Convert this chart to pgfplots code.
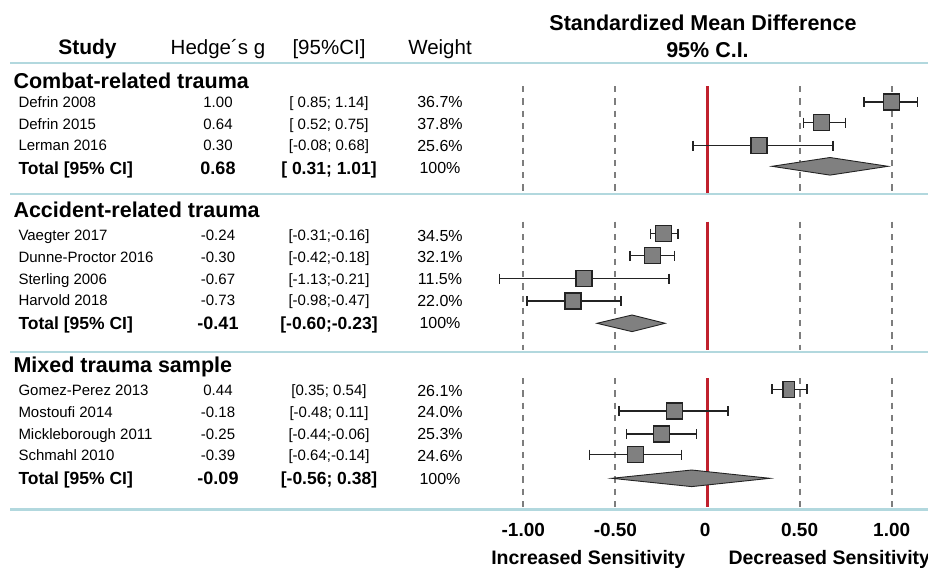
\documentclass[border=0pt]{standalone}
\usepackage{fontspec}
\setmainfont{Liberation Sans}
\usepackage{pgfplots}
\pgfplotsset{compat=1.18}

\definecolor{sepblue}{RGB}{178,216,222}
\definecolor{refred}{RGB}{192,32,45}
\definecolor{boxgray}{RGB}{128,128,128}
\definecolor{dashgray}{RGB}{125,125,125}
\definecolor{ink}{RGB}{35,35,35}

\tikzset{
  lt/.style 2 args={font=\fontsize{#1}{#1}\selectfont#2, anchor=base west, inner sep=0pt, yshift={-0.358*#1pt}},
  ct/.style 2 args={font=\fontsize{#1}{#1}\selectfont#2, anchor=base, inner sep=0pt, yshift={-0.358*#1pt}},
}

\begin{document}
\begin{tikzpicture}[x=1pt,y=-1pt]
\useasboundingbox (0,0) rectangle (928,567);

% separators
\foreach \yy in {63,194.3,351.7,509.5}
  \draw[sepblue, line width=2.3pt] (10,\yy) -- (928,\yy);

% headers
\node[ct={21}{\bfseries}] at (87.5,47) {Study};
\node[ct={20.5}{}] at (218,47) {Hedge´s g};
\node[ct={20.5}{}] at (329,47) {[95\%CI]};
\node[ct={20.5}{}] at (440,47) {Weight};
\node[ct={21.5}{\bfseries}] at (703,22.7) {Standardized Mean Difference};
\node[ct={21.5}{\bfseries}] at (707.5,50) {95\% C.I.};

\node[lt={21.5}{\bfseries}] at (13.3,80.7) {Combat-related trauma};
\node[lt={21.5}{\bfseries}] at (13.3,209.7) {Accident-related trauma};
\node[lt={21.5}{\bfseries}] at (13.3,365) {Mixed trauma sample};

% study rows
\foreach \y/\s/\g/\c/\w in {
  102/Defrin 2008/1.00/[ 0.85; 1.14]/36.7,
  123.7/Defrin 2015/0.64/[ 0.52; 0.75]/37.8,
  145.3/Lerman 2016/0.30/[-0.08; 0.68]/25.6,
  235.3/Vaegter 2017/-0.24/[-0.31;-0.16]/34.5,
  257/Dunne-Proctor 2016/-0.30/[-0.42;-0.18]/32.1,
  278.8/Sterling 2006/-0.67/[-1.13;-0.21]/11.5,
  300.5/Harvold 2018/-0.73/[-0.98;-0.47]/22.0,
  390.3/Gomez-Perez 2013/0.44/[0.35; 0.54]/26.1,
  412/Mostoufi 2014/-0.18/[-0.48; 0.11]/24.0,
  433.7/Mickleborough 2011/-0.25/[-0.44;-0.06]/25.3,
  455.3/Schmahl 2010/-0.39/[-0.64;-0.14]/24.6} {
  \node[lt={15}{}] at (18.3,\y) {\s};
  \node[ct={15}{}] at (218,\y) {\g};
  \node[ct={15}{}] at (329,\y) {\c};
  \node[ct={16}{}] at (440,\y) {\w\%};
}

% totals
\foreach \y/\g/\c in {167.8/0.68/[ 0.31; 1.01], 323/-0.41/[-0.60;-0.23], 478.3/-0.09/[-0.56; 0.38]} {
  \node[lt={17.5}{\bfseries}] at (18.3,\y) {Total [95\% CI]};
  \node[ct={18}{\bfseries}] at (218,\y) {\g};
  \node[ct={17.5}{\bfseries}] at (329,\y) {\c};
  \node[ct={16}{}] at (440,\y) {100\%};
}

\begin{axis}[at={(523.3pt,-567pt)}, anchor=south west,
  scale only axis, width=368.4pt, height=567pt,
  xmin=-1, xmax=1, ymin=0, ymax=567, y dir=reverse,
  hide axis, clip=false]

% reference lines
\addplot[dashgray, line width=2pt, dash pattern=on 6.3pt off 6pt, unbounded coords=jump, forget plot] coordinates {
  (-1,86) (-1,193) (-1,nan) (-1,221.7) (-1,350) (-1,nan) (-1,378) (-1,507) (-1,nan)
  (-0.5,86) (-0.5,193) (-0.5,nan) (-0.5,221.7) (-0.5,350) (-0.5,nan) (-0.5,378) (-0.5,507) (-0.5,nan)
  (0.5,86) (0.5,193) (0.5,nan) (0.5,221.7) (0.5,350) (0.5,nan) (0.5,378) (0.5,507) (0.5,nan)
  (1,86) (1,193) (1,nan) (1,221.7) (1,350) (1,nan) (1,378) (1,507)
};
\addplot[refred, line width=2.8pt, unbounded coords=jump, forget plot] coordinates {
  (0,86) (0,193) (0,nan) (0,221.7) (0,350) (0,nan) (0,378) (0,507)
};

% confidence intervals
\addplot[ink, line width=1.5pt, mark=|, mark size=5pt, unbounded coords=jump] coordinates {
  (0.85,102) (1.14,102) (0,nan)
  (0.52,122.7) (0.75,122.7) (0,nan)
  (-0.08,145.5) (0.68,145.5) (0,nan)
  (-0.31,233.5) (-0.16,233.5) (0,nan)
  (-0.42,255.7) (-0.18,255.7) (0,nan)
  (-1.13,278.6) (-0.21,278.6) (0,nan)
  (-0.98,301) (-0.47,301) (0,nan)
  (0.35,389.3) (0.54,389.3) (0,nan)
  (-0.48,411) (0.11,411) (0,nan)
  (-0.44,434) (-0.06,434) (0,nan)
  (-0.64,454.7) (-0.14,454.7)
};

% point estimates
\addplot[only marks, mark=square*, mark size=8pt,
  mark options={fill=boxgray, draw=ink, line width=1.4pt}] coordinates {
  (1.00,102) (0.62,122.7) (0.28,145.5)
  (-0.24,233.5) (-0.30,255.7) (-0.67,278.6) (-0.73,301)
  (-0.18,411) (-0.25,434) (-0.39,454.7)
};
\addplot[only marks, mark=square*, mark size=8pt,
  mark options={fill=boxgray, draw=ink, line width=1.4pt, xscale=0.72}] coordinates {
  (0.44,389.3)
};

% pooled estimates
\addplot[fill=boxgray, draw=ink, line width=0.9pt] coordinates {
  (0.35,166.3) (0.665,157.5) (0.98,166.3) (0.665,175.1)} -- cycle;
\addplot[fill=boxgray, draw=ink, line width=0.9pt] coordinates {
  (-0.60,323.3) (-0.41,315) (-0.23,323.3) (-0.41,331.6)} -- cycle;
\addplot[fill=boxgray, draw=ink, line width=0.9pt] coordinates {
  (-0.52,478.3) (-0.086,470) (0.339,478.3) (-0.086,486.6)} -- cycle;

% axis labels
\node[ct={19}{\bfseries}] at (axis cs:-1,529.3) {-1.00};
\node[ct={19}{\bfseries}] at (axis cs:-0.5,529.3) {-0.50};
\node[ct={19}{\bfseries}] at (axis cs:-0.013,529.3) {0};
\node[ct={19}{\bfseries}] at (axis cs:0.5,529.3) {0.50};
\node[ct={19}{\bfseries}] at (axis cs:1,529.3) {1.00};
\end{axis}

\node[ct={19.5}{\bfseries}] at (588.3,557.8) {Increased Sensitivity};
\node[lt={19.5}{\bfseries}] at (728.3,557.8) {Decreased Sensitivity};
\end{tikzpicture}
\end{document}
